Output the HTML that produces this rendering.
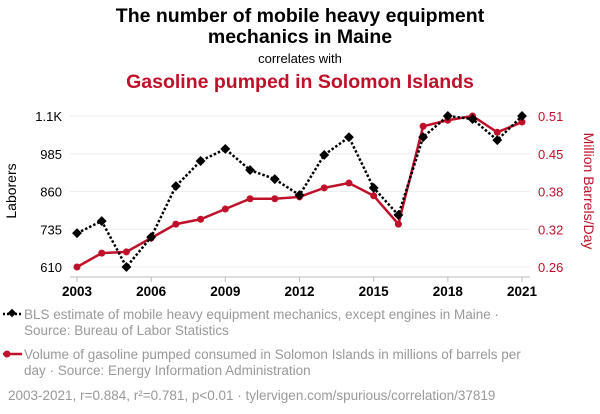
<!DOCTYPE html>
<html><head><meta charset="utf-8"><style>
body{margin:0;background:#fff;font-family:"Liberation Sans",Arial,sans-serif;}
svg{display:block}
</style></head><body>
<svg width="600" height="414" viewBox="0 0 600 414" xmlns="http://www.w3.org/2000/svg">
<text x="300" y="22" text-anchor="middle" font-size="19.5" font-weight="bold" fill="#000">The number of mobile heavy equipment</text>
<text x="300" y="43" text-anchor="middle" font-size="19.5" font-weight="bold" fill="#000">mechanics in Maine</text>
<text x="300" y="63" text-anchor="middle" font-size="13" fill="#000">correlates with</text>
<text x="300" y="88" text-anchor="middle" font-size="19.5" font-weight="bold" fill="#c0112b">Gasoline pumped in Solomon Islands</text>
<g id="grid"></g>
<line x1="70" y1="277" x2="530" y2="277" stroke="#bbb"/>
<g id="xt"></g>
<g id="yl"></g>
<g id="yr"></g>
<text transform="translate(16,191) rotate(-90)" text-anchor="middle" font-size="14" fill="#000">Laborers</text>
<text transform="translate(584,191) rotate(90)" text-anchor="middle" font-size="14" fill="#c0112b">Million Barrels/Day</text>
<g id="series"></g>
<g>
<line x1="3" y1="314" x2="22" y2="314" stroke="#000" stroke-width="2.5" stroke-dasharray="2,2"/>
<rect x="9" y="310" width="6" height="6" transform="rotate(45 12 313)" fill="#000"/>
<text x="24" y="319" font-size="13.5" fill="#999">BLS estimate of mobile heavy equipment mechanics, except engines in Maine ·</text>
<text x="24" y="335" font-size="13.5" fill="#999">Source: Bureau of Labor Statistics</text>
</g>
<g>
<line x1="3" y1="354" x2="22" y2="354" stroke="#c0112b" stroke-width="2.5"/>
<circle cx="7" cy="354" r="3.5" fill="#c0112b"/>
<text x="24" y="359" font-size="13.5" fill="#999">Volume of gasoline pumped consumed in Solomon Islands in millions of barrels per</text>
<text x="24" y="375" font-size="13.5" fill="#999">day · Source: Energy Information Administration</text>
</g>
<text x="8" y="400" font-size="13.5" fill="#999">2003-2021, r=0.884, r²=0.781, p&lt;0.01 · tylervigen.com/spurious/correlation/37819</text>
</svg>
<script>
const years=[2003,2004,2005,2006,2007,2008,2009,2010,2011,2012,2013,2014,2015,2016,2017,2018,2019,2020,2021];
const mechanics=[722,762,610,709,878,961,1001,931,901,848,981,1040,872,782,1040,1110,1100,1030,1110];
const gasoline=[0.26,0.283,0.285,0.308,0.331,0.339,0.356,0.373,0.373,0.376,0.391,0.399,0.378,0.331,0.493,0.503,0.51,0.483,0.5];
const xTicks=[2003,2006,2009,2012,2015,2018,2021];
const leftTicks=[610,735,860,985,1110];
const leftLabels=["610","735","860","985","1.1K"];
const rightTicks=[0.26,0.3225,0.385,0.4475,0.51];
const rightLabels=["0.26","0.32","0.38","0.45","0.51"];
const NS="http://www.w3.org/2000/svg";
const X=y=>77+(y-2003)*(522-77)/18;
const YL=v=>267-(v-610)*(267-116)/500;
const YR=v=>267-(v-0.26)*(267-116)/0.25;
function mk(t,a,p){const e=document.createElementNS(NS,t);for(const k in a)e.setAttribute(k,a[k]);p.appendChild(e);return e;}
const grid=document.getElementById('grid'),xt=document.getElementById('xt'),yl=document.getElementById('yl'),yr=document.getElementById('yr'),ser=document.getElementById('series');
leftTicks.forEach((v,i)=>{
 const g=mk('line',{x1:70,x2:530,y1:YL(v),y2:YL(v),stroke:'#eee'},grid);
 
 
 const t=mk('text',{x:62,y:YL(v)+5,'text-anchor':'end','font-size':13,fill:'#000'},yl);t.textContent=leftLabels[i];
 
 
});
rightTicks.forEach((v,i)=>{
 const t=mk('text',{x:538,y:YR(v)+5,'font-size':13,fill:'#c0112b'},yr);t.textContent=rightLabels[i];
 
 
});
xTicks.forEach(y=>{
 mk('line',{x1:X(y),x2:X(y),y1:277,y2:282,stroke:'#bbb'},xt);
 const t=mk('text',{x:X(y),y:296,'text-anchor':'middle','font-size':13.5,'font-weight':'bold',fill:'#000'},xt);t.textContent=y;
 
 
});
const rp=years.map((y,i)=>X(y)+','+YR(gasoline[i])).join(' ');
const rl=mk('polyline',{points:rp,fill:'none',stroke:'#c0112b','stroke-width':2.5},ser);


years.forEach((y,i)=>{const c=mk('circle',{cx:X(y),cy:YR(gasoline[i]),r:3.5,fill:'#c0112b'},ser);
 
 });
const bp=years.map((y,i)=>X(y)+','+YL(mechanics[i])).join(' ');
const bl=mk('polyline',{points:bp,fill:'none',stroke:'#000','stroke-width':2.5,'stroke-dasharray':'2.5,2'},ser);


years.forEach((y,i)=>{const cx=X(y),cy=YL(mechanics[i]);
 const d=mk('rect',{x:cx-3.5,y:cy-3.5,width:7,height:7,fill:'#000',transform:`rotate(45 ${cx} ${cy})`},ser);
 
 });
</script>
</body></html>
